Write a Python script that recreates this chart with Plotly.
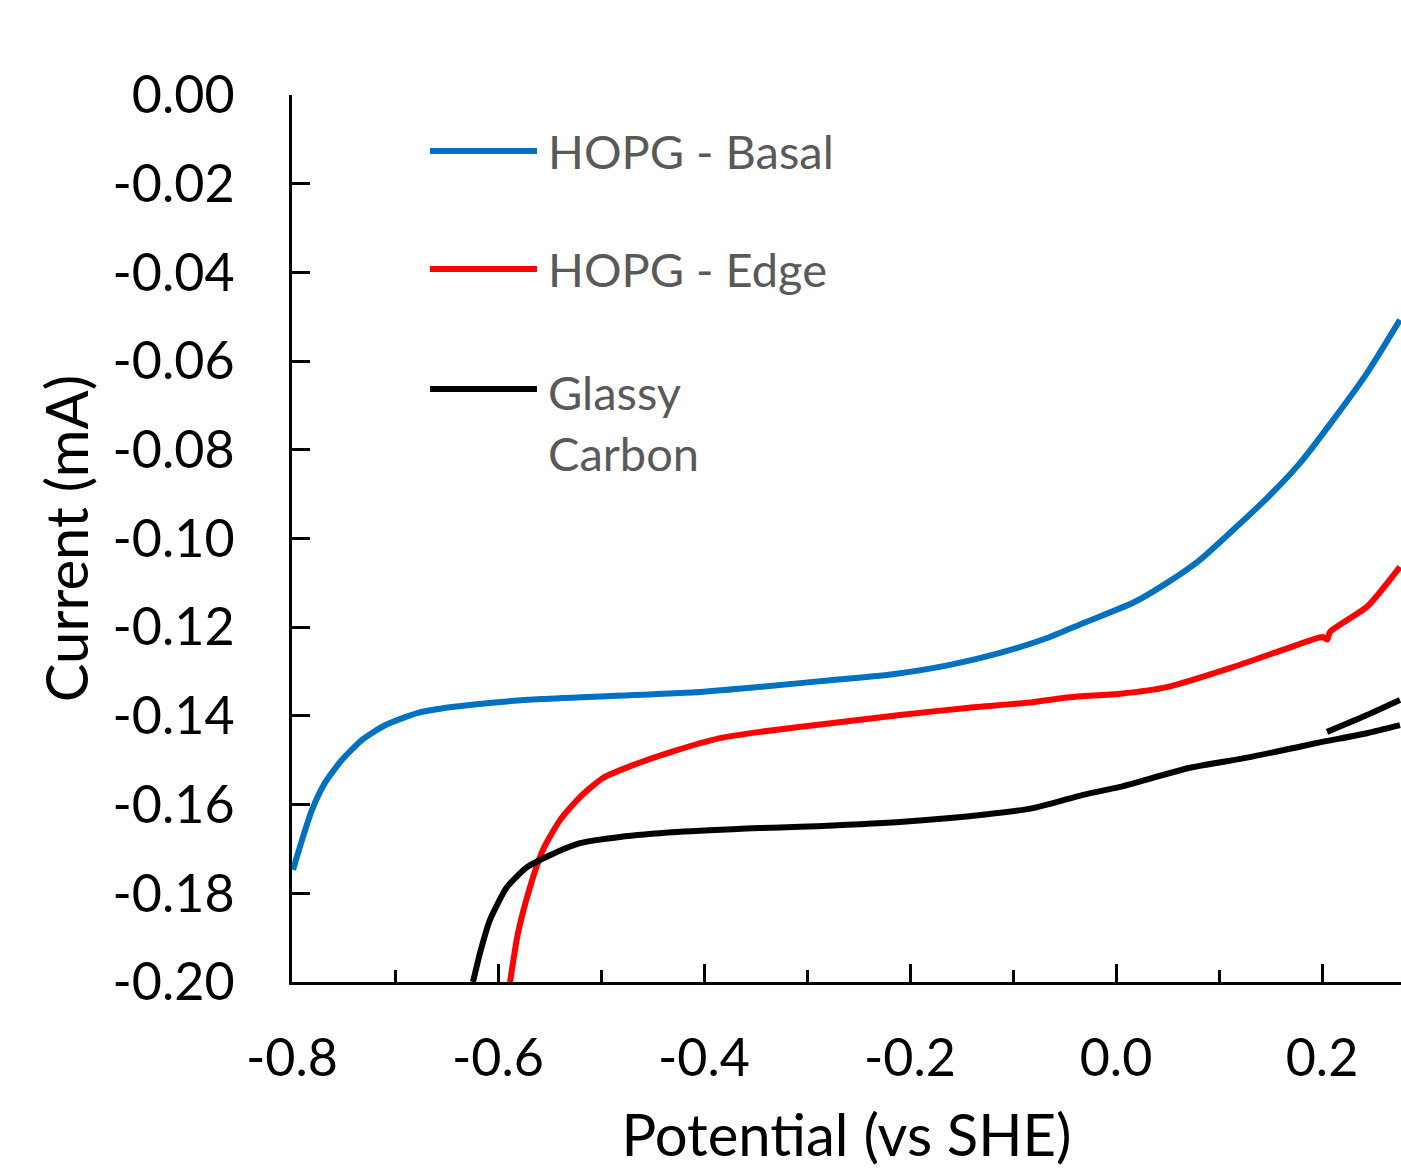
import plotly.graph_objects as go

# ---- data ----
basal_potential = [-0.799, -0.7903, -0.7806, -0.768, -0.7515, -0.732, -0.7097, -0.6777, -0.6447, -0.60, -0.5573,
                   -0.4039, -0.3388, -0.2748, -0.2165, -0.1612, -0.1126, -0.0641, -0.032,
                   0.0165, 0.0495, 0.0816, 0.1136, 0.1466, 0.1786, 0.2107, 0.2437, 0.2757]
basal_current = [-0.1747, -0.1680, -0.1612, -0.1551, -0.1499, -0.1454, -0.1421, -0.1393, -0.1380, -0.1369, -0.1362,
                 -0.1346, -0.1333, -0.1319, -0.1306, -0.1285, -0.1258, -0.1222, -0.1191,
                 -0.1145, -0.1100, -0.1048, -0.0981, -0.0909, -0.0830, -0.0733, -0.0627, -0.0507]

edge_potential = [-0.5883, -0.5806, -0.5689, -0.5563, -0.5398, -0.5204, -0.4981, -0.4689, -0.4262, -0.3845, -0.3456,
                  -0.2748, -0.2097, -0.1447, -0.0806, -0.0447, 0.0039, 0.0495, 0.1136, 0.1621,
                  0.201, 0.2049, 0.208, 0.2437, 0.2757]
edge_current = [-0.2000, -0.1890, -0.1786, -0.1702, -0.1635, -0.1583, -0.1540, -0.1511, -0.1477, -0.1450, -0.1436,
                -0.1416, -0.1398, -0.1382, -0.1369, -0.1358, -0.1350, -0.1335, -0.1290, -0.1251,
                -0.1222, -0.1228, -0.1210, -0.1154, -0.1064]

glassy_potential = [-0.6243, -0.6175, -0.6078, -0.5913, -0.5718, -0.5495, -0.5204, -0.4816, -0.4262, -0.3456,
                    -0.3068, -0.2097, -0.1291, -0.0806, -0.032, 0.0039, 0.0718, 0.1301, 0.1951, 0.2437, 0.2757,
                    None, 0.2757, 0.2437, 0.2049]
glassy_current = [-0.2000, -0.1935, -0.1860, -0.1786, -0.1741, -0.1714, -0.1687, -0.1673, -0.1662, -0.1653,
                  -0.1650, -0.1639, -0.1623, -0.1608, -0.1578, -0.1560, -0.1517, -0.1493, -0.1461, -0.1439, -0.1421,
                  None, -0.1364, -0.1398, -0.1436]

series_names = ["HOPG - Basal", "HOPG - Edge", "Glassy<br>Carbon"]
series_colors = ["#0070C0", "#FF0000", "#000000"]

x_tick_vals = [-0.8, -0.6, -0.4, -0.2, 0.0, 0.2]
x_tick_text = ["-0.8", "-0.6", "-0.4", "-0.2", "0.0", "0.2"]
y_tick_vals = [0.00, -0.02, -0.04, -0.06, -0.08, -0.10, -0.12, -0.14, -0.16, -0.18, -0.20]
y_tick_text = ["0.00", "-0.02", "-0.04", "-0.06", "-0.08", "-0.10", "-0.12", "-0.14", "-0.16", "-0.18", "-0.20"]

FONT = "Lato"

fig = go.Figure()
for xs, ys, name, col in zip([basal_potential, edge_potential, glassy_potential],
                             [basal_current, edge_current, glassy_current],
                             series_names, series_colors):
    fig.add_trace(go.Scatter(x=xs, y=ys, mode="lines", name=name, connectgaps=False,
                             line=dict(color=col, width=6, shape="spline", smoothing=0.6),
                             showlegend=False))

# custom legend (long line samples as in the reference)
leg_y = [0.9369, 0.8038, 0.6685]
for yy, name, col in zip(leg_y, series_names, series_colors):
    fig.add_shape(type="line", xref="paper", yref="paper", x0=0.1244, x1=0.2209, y0=yy, y1=yy,
                  line=dict(color=col, width=6))
fig.add_annotation(xref="paper", yref="paper", x=0.229, y=leg_y[0], text=series_names[0],
                   xanchor="left", yanchor="middle", showarrow=False,
                   font=dict(family=FONT, size=47, color="#595959"))
fig.add_annotation(xref="paper", yref="paper", x=0.229, y=leg_y[1], text=series_names[1],
                   xanchor="left", yanchor="middle", showarrow=False,
                   font=dict(family=FONT, size=47, color="#595959"))
fig.add_annotation(xref="paper", yref="paper", x=0.229, y=0.6313, text=series_names[2],
                   xanchor="left", yanchor="middle", align="left", showarrow=False,
                   font=dict(family=FONT, size=47, color="#595959"))

fig.update_layout(
    width=1401, height=1168,
    margin=dict(l=292, r=0, t=95, b=186),
    paper_bgcolor="white", plot_bgcolor="white",
    font=dict(family=FONT, color="black"),
    xaxis=dict(range=[-0.8, 0.2767], tickmode="array", tickvals=x_tick_vals, ticktext=x_tick_text,
               ticks="inside", ticklen=18, tickwidth=3, tickcolor="black",
               minor=dict(tickmode="linear", tick0=-0.8, dtick=0.1, ticks="inside", ticklen=12,
                          tickwidth=3, tickcolor="black", showgrid=False),
               showline=True, linecolor="black", linewidth=3, showgrid=False, zeroline=False,
               automargin=False,
               tickfont=dict(family=FONT, size=52, color="black"), ticklabelstandoff=29,
               title=dict(text="Potential (vs SHE)", font=dict(family=FONT, size=58, color="black"),
                          standoff=48)),
    yaxis=dict(range=[-0.20, 0.0], tickmode="array", tickvals=y_tick_vals, ticktext=y_tick_text,
               ticks="inside", ticklen=18, tickwidth=3, tickcolor="black",
               showline=True, linecolor="black", linewidth=3, showgrid=False, zeroline=False,
               automargin=False,
               tickfont=dict(family=FONT, size=52, color="black"), ticklabelstandoff=44,
               title=dict(text="Current (mA)", font=dict(family=FONT, size=58, color="black"),
                          standoff=6)),
)

fig.write_html("out.html")
